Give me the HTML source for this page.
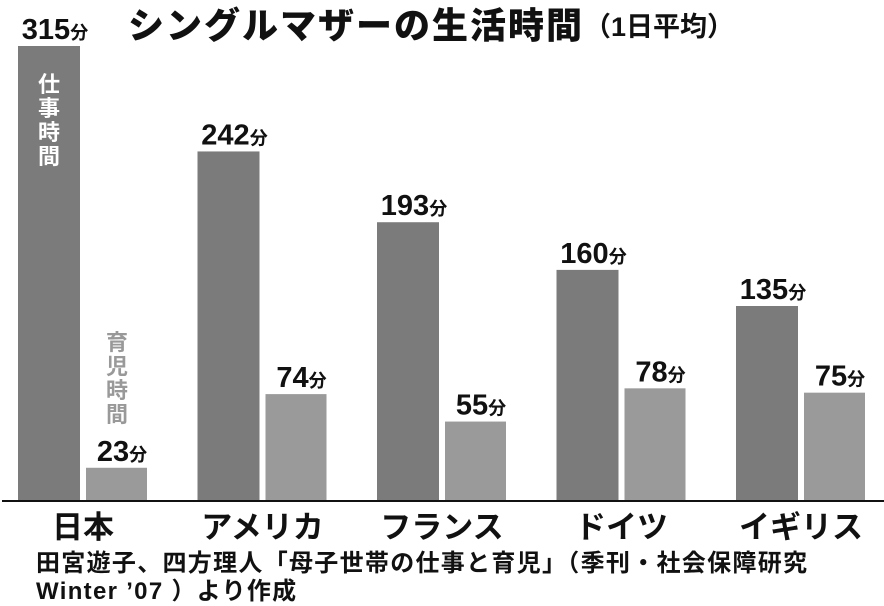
<!DOCTYPE html>
<html><head><meta charset="utf-8"><style>
body{margin:0;background:#fff;}
svg{display:block;font-family:"Liberation Sans","Noto Sans CJK JP",sans-serif;}
</style></head><body>
<svg width="884" height="606" viewBox="0 0 884 606">
<text x="128" y="38" font-size="36" font-weight="900" fill="#111" letter-spacing="2">シングルマザーの生活時間<tspan font-size="27" font-weight="bold" letter-spacing="0" dy="-2">（1日平均）</tspan></text>
<g id="bars"></g>
<line x1="2" y1="501" x2="884" y2="501" stroke="#111" stroke-width="2"/>
<text x="36" y="571" font-size="24" font-weight="bold" fill="#111" letter-spacing="1.3">田宮遊子、四方理人「母子世帯の仕事と育児」（季刊・社会保障研究</text>
<text x="36" y="599" font-size="24" font-weight="bold" fill="#111" letter-spacing="1.3">Winter ’07 ）より作成</text>
</svg>
<script>
const categories=["日本","アメリカ","フランス","ドイツ","イギリス"];
const workMinutes=[315,242,193,160,135];
const childcareMinutes=[23,74,55,78,75];
const ns="http://www.w3.org/2000/svg";
const g=document.getElementById("bars");
const base=501, k=455/315;
function y(v){return base-v*k;}
function x(i){return 18+i*179.5;}
function mk(t,a){const e=document.createElementNS(ns,t);for(const n in a)e.setAttribute(n,a[n]);g.appendChild(e);return e;}
function lbl(cx,cy,v){
 const t=mk("text",{x:cx,y:cy,"text-anchor":"middle","font-size":"29","font-weight":"bold",fill:"#111"});
 
 
 t.innerHTML=v+'<tspan font-size="18">分</tspan>';
}
categories.forEach((c,i)=>{
 const x0=x(i), w=62;
 const r1=mk("rect",{x:x0,y:y(workMinutes[i]),width:w,height:base-y(workMinutes[i]),fill:"#7b7b7b"});
 
 
 lbl(x0+w/2+6,y(workMinutes[i])-7,workMinutes[i]);
 const r2=mk("rect",{x:x0+68,y:y(childcareMinutes[i]),width:61,height:base-y(childcareMinutes[i]),fill:"#9a9a9a"});
 
 
 lbl(x0+68+30+6,y(childcareMinutes[i])-7,childcareMinutes[i]);
 const t=mk("text",{x:x0+65,y:538,"text-anchor":"middle","font-size":"31","font-weight":"bold",fill:"#111"});
 
 
 t.textContent=c;
});
function vert(txt,cx,y0,fill,name){
 [...txt].forEach((ch,j)=>{
  const t=mk("text",{x:cx,y:y0+j*24,"text-anchor":"middle","font-size":"22","font-weight":"bold",fill:fill});
  
  
  t.textContent=ch;
 });
}
vert("仕事時間",x(0)+31,92,"#fff","legend-work");
vert("育児時間",x(0)+99,350,"#999","legend-childcare");
</script>
</body></html>
